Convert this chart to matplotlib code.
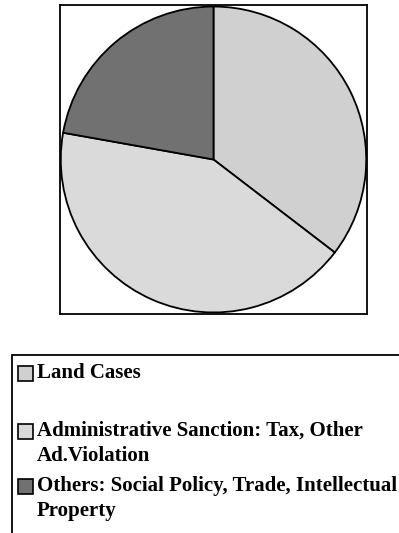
import matplotlib.pyplot as plt
from matplotlib.patches import Rectangle

categories = ['Land Cases',
              'Administrative Sanction: Tax, Other\nAd.Violation',
              'Others: Social Policy, Trade, Intellectual\nProperty']
shares = [35.4, 42.4, 22.2]
colors = ['#d0d0d0', '#dadada', '#717171']

plt.rcParams['font.family'] = ['Liberation Serif', 'DejaVu Serif']

fig = plt.figure(figsize=(3.99, 5.33), dpi=100)
W, H = 399.0, 533.0

ax = fig.add_axes([60 / W, 1 - 314 / H, 307 / W, 309 / H])
wedges, _ = ax.pie(shares, colors=colors, startangle=90, counterclock=False,
                   radius=1.0, wedgeprops=dict(edgecolor='black', linewidth=1.3))
ax.set_xlim(-1.005, 1.005)
ax.set_ylim(-1.01, 1.01)
ax.set_aspect('auto')
ax.set_frame_on(True)
for s in ax.spines.values():
    s.set_linewidth(1.3)
ax.set_xticks([])
ax.set_yticks([])

# legend box, running off the right and bottom edge
fig.patches.append(Rectangle((12 / W, -0.05), 1.0, (1 - 355 / H) + 0.05,
                             transform=fig.transFigure, facecolor='none',
                             edgecolor='black', linewidth=1.3, clip_on=False))

rows = [373, 431, 486]
for label, col, y in zip(categories, colors, rows):
    fig.patches.append(Rectangle((18 / W, 1 - (y + 7.5) / H), 15 / W, 15 / H,
                                 transform=fig.transFigure, facecolor=col,
                                 edgecolor='black', linewidth=1.2))
    fig.text(37 / W, 1 - (y - 10) / H, label, ha='left', va='top',
             fontsize=15, fontweight='bold', linespacing=1.36)

fig.savefig('out.png', dpi=100)
